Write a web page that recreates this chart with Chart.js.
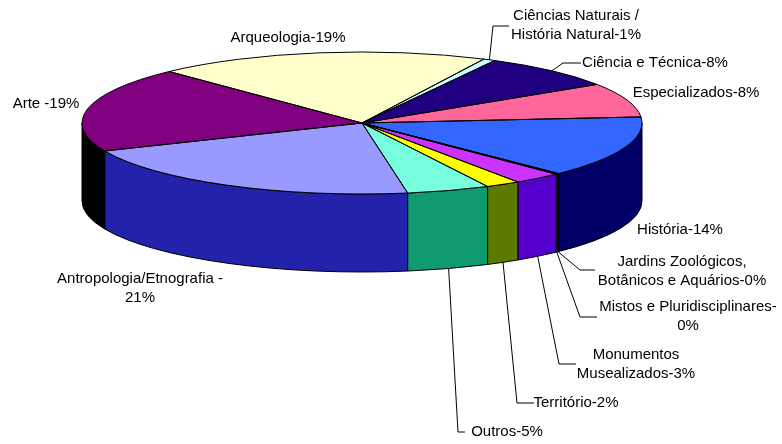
<!DOCTYPE html>
<html>
<head>
<meta charset="utf-8">
<script src="https://cdn.jsdelivr.net/npm/chart.js@4.4.0/dist/chart.umd.min.js"></script>
<style>
  html, body { margin: 0; padding: 0; background: #fff; }
</style>
</head>
<body>
<canvas id="museus" width="782" height="444"></canvas>
<script>
// categories, clockwise starting at the front edge of Antropologia
var categories = ['Antropologia/Etnografia ', 'Arte ', 'Arqueologia',
                  'Ciências Naturais / História Natural', 'Ciência e Técnica',
                  'Especializados', 'História', 'Jardins Zoológicos, Botânicos e Aquários',
                  'Mistos e Pluridisciplinares', 'Monumentos Musealizados', 'Território', 'Outros'];
var shares = [21.2, 19.4, 19.3, 0.7, 8.0, 7.8, 14.0, 0.1, 0.1, 2.8, 2.0, 4.8];

var topColors  = ['#9999FF', '#800080', '#FFFFCC', '#CCFFFF', '#200080', '#FF6699',
                  '#3366FF', '#3366FF', '#CC33FF', '#CC33FF', '#FFFF00', '#77FFDD'];
var sideColors = ['#2222AA', '#000000', '#80806A', '#668080', '#100040', '#80334C',
                  '#000066', '#000066', '#5500CC', '#5500CC', '#5C7A00', '#109A70'];

// 3d look of the pie
var RX = 280, RY = 71, DEPTH = 78;
var LINE_H = 19;
var FONT = '15px "Liberation Sans", Arial, sans-serif';

// where each label sits (text centre, first line) and its leader elbow
var labelPos = [
	{ x: 140, y: 279, wrap: 180 },
	{ x: 46,  y: 104 },
	{ x: 288, y: 38 },
	{ x: 576, y: 16,  wrap: 148, elbow: [493, 26], end: 509 },
	{ x: 655, y: 63,  elbow: [563, 63], end: 581 },
	{ x: 696, y: 93 },
	{ x: 680, y: 230 },
	{ x: 682, y: 262, wrap: 186, elbow: [580, 270], end: 595 },
	{ x: 688, y: 307, wrap: 194, elbow: [580, 317], end: 597 },
	{ x: 636, y: 355, wrap: 128, elbow: [559, 364], end: 576 },
	{ x: 576, y: 403, elbow: [517, 403], end: 534 },
	{ x: 507, y: 432, elbow: [458, 432], end: 465 }
];

function wrapText(ctx, text, maxW) {
	if (!maxW) return [text];
	var parts = text.split(/(?<=[ \-])/);
	var lines = [], cur = '';
	parts.forEach(function(p) {
		if (cur && ctx.measureText((cur + p).trim()).width > maxW) {
			lines.push(cur.trim());
			cur = p;
		} else {
			cur += p;
		}
	});
	if (cur) lines.push(cur.trim());
	return lines;
}

function sideFace(ctx, cx, cy, a, b, color) {
	ctx.beginPath();
	ctx.ellipse(cx, cy, RX, RY, 0, a, b);
	ctx.lineTo(cx + RX * Math.cos(b), cy + DEPTH + RY * Math.sin(b));
	ctx.ellipse(cx, cy + DEPTH, RX, RY, 0, b, a, true);
	ctx.closePath();
	ctx.fillStyle = color;
	ctx.fill();
	ctx.stroke();
}

var pie3d = {
	id: 'pie3d',
	beforeDatasetsDraw: function(chart) {
		var ctx = chart.ctx;
		var arcs = chart.getDatasetMeta(0).data;
		var cx = arcs[0].x, cy = arcs[0].y, R = arcs[0].outerRadius;

		// front walls first
		ctx.save();
		ctx.lineWidth = 1;
		ctx.strokeStyle = '#000';
		arcs.forEach(function(arc, i) {
			[-2, 0, 2, 4].forEach(function(k) {
				var lo = Math.max(arc.startAngle, k * Math.PI);
				var hi = Math.min(arc.endAngle, (k + 1) * Math.PI);
				if (hi > lo) sideFace(ctx, cx, cy, lo, hi, sideColors[i]);
			});
		});
		ctx.restore();

		// squash the library's round pie into the top ellipse
		ctx.save();
		ctx.translate(cx, cy);
		ctx.scale(RX / R, RY / R);
		ctx.translate(-cx, -cy);
	},
	afterDatasetsDraw: function(chart) {
		var ctx = chart.ctx;
		ctx.restore();

		var arcs = chart.getDatasetMeta(0).data;
		var cx = arcs[0].x, cy = arcs[0].y;
		var total = shares.reduce(function(s, v) { return s + v; }, 0);

		ctx.save();
		ctx.lineWidth = 1;
		ctx.strokeStyle = '#000';
		arcs.forEach(function(arc) {
			ctx.beginPath();
			ctx.moveTo(cx, cy);
			ctx.ellipse(cx, cy, RX, RY, 0, arc.startAngle, arc.endAngle);
			ctx.closePath();
			ctx.stroke();
		});

		ctx.font = FONT;
		ctx.fillStyle = '#000';
		ctx.textAlign = 'center';
		ctx.textBaseline = 'middle';
		arcs.forEach(function(arc, i) {
			var pos = labelPos[i];
			var pct = Math.round(shares[i] / total * 100);
			var lines = wrapText(ctx, categories[i] + '-' + pct + '%', pos.wrap);
			lines.forEach(function(l, j) {
				ctx.fillText(l, pos.x, pos.y + j * LINE_H);
			});
			if (pos.elbow) {
				var mid = (arc.startAngle + arc.endAngle) / 2;
				var sx = cx + RX * Math.cos(mid);
				var sy = cy + RY * Math.sin(mid) + (Math.sin(mid) > 0 ? DEPTH : 0);
				ctx.beginPath();
				ctx.moveTo(sx, sy);
				ctx.lineTo(pos.elbow[0], pos.elbow[1]);
				ctx.lineTo(pos.end, pos.elbow[1]);
				ctx.stroke();
			}
		});
		ctx.restore();
	}
};

new Chart(document.getElementById('museus'), {
	type: 'pie',
	data: {
		labels: categories,
		datasets: [{
			data: shares,
			backgroundColor: topColors,
			borderWidth: 0,
			clip: false
		}]
	},
	options: {
		responsive: false,
		animation: false,
		rotation: 170.6,
		layout: { padding: { left: 0, top: 0, right: 58, bottom: 198 } },
		plugins: {
			legend: { display: false },
			tooltip: { enabled: false }
		}
	},
	plugins: [pie3d]
});
</script>
</body>
</html>
